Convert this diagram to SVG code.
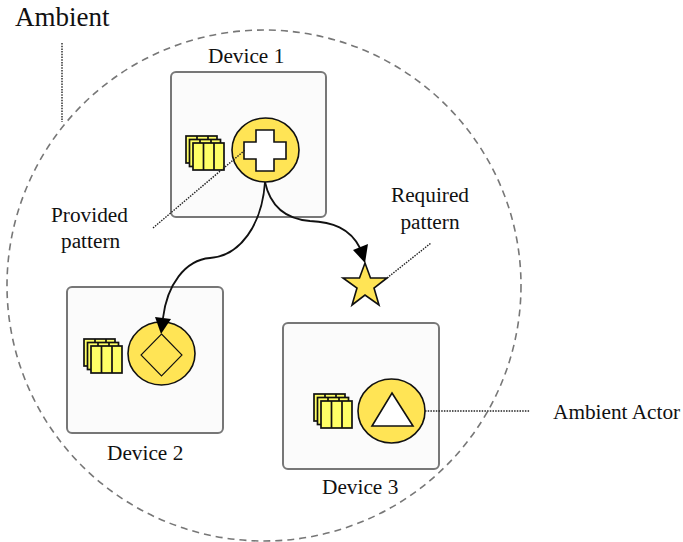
<svg xmlns="http://www.w3.org/2000/svg" width="683" height="542" viewBox="0 0 683 542">
<style>
text{font-family:"Liberation Serif","Times New Roman",serif;font-size:21.3px;fill:#111}
.dev{fill:#fbfbfb;stroke:#777;stroke-width:2}
.disc{fill:#ffe455;stroke:#111;stroke-width:1.6}
.doc{fill:#ffff66;stroke:#111;stroke-width:1.7}
.sym{stroke:#111;stroke-width:1.6;stroke-linejoin:miter}
.lead{fill:none;stroke:#222;stroke-width:1.4;stroke-dasharray:1.5 1.2}
.curve{fill:none;stroke:#111;stroke-width:1.8}
.head{fill:#000;stroke:none}
</style>
<defs>
<g id="stack">
<rect class="doc" x="0" y="0" width="31" height="27"/>
<path class="doc" d="M11 0V3M22 0V3"/>
<rect class="doc" x="3.500" y="3.500" width="31" height="27"/>
<path class="doc" d="M14 3.500V7M25 3.500V7"/>
<rect class="doc" x="7" y="7" width="31" height="27"/>
<path class="doc" d="M17.500 7V34M28 7V34"/>
</g>
</defs>
<g id="ambient"><ellipse cx="264" cy="285.500" rx="257" ry="255.500" fill="none" stroke="#777" stroke-width="1.6" stroke-dasharray="7 5"/><text x="15" y="26" style="font-size:27px">Ambient</text></g>
<g id="device1"><rect class="dev" x="171" y="72" width="155" height="145" rx="5"/><use href="#stack" x="186" y="136"/><ellipse class="disc" cx="265.500" cy="150" rx="33.500" ry="32"/><path class="sym" fill="#fff" d="M256 130H274V142H286V159H274V171H256V159H244V142H256Z"/><text x="208" y="63">Device 1</text></g>
<g id="device2"><rect class="dev" x="67" y="287" width="156" height="146" rx="5"/><use href="#stack" x="84" y="339"/><ellipse class="disc" cx="161.500" cy="353.500" rx="33.500" ry="31.500"/><path fill="#ffe455" stroke="#111" stroke-width="1.1" d="M161.500 334L182 355L161.500 376L141 355Z"/><text x="107" y="460">Device 2</text></g>
<g id="device3"><rect class="dev" x="283" y="323" width="156" height="146" rx="5"/><use href="#stack" x="314" y="394"/><ellipse class="disc" cx="391.500" cy="411" rx="33.500" ry="32"/><path class="sym" fill="#fff" d="M392 393L413 426H372Z"/><text x="322" y="494">Device 3</text></g>
<g id="required-pattern"><path class="sym" fill="#ffe455" d="M365 263L370.500 278H387L374 288L379 305L365 295L352 305L357 288L343 278H359.500Z"/><text text-anchor="middle" x="430" y="202">Required</text><text text-anchor="middle" x="430" y="229">pattern</text></g>
<g id="provided-pattern"><text x="51" y="222">Provided</text><text x="61" y="248">pattern</text></g>
<g id="ambient-actor"><text x="553" y="419">Ambient Actor</text></g>
<g id="connectors">
<path class="lead" d="M62 43V122"/>
<path class="lead" d="M153 228L245 150"/>
<path class="lead" d="M387 278L431 243"/>
<path class="lead" d="M425 411H530"/>
<path class="curve" d="M265 182C270 205 285 219 310 221C332 222 350 228 360 248"/>
<path class="head" d="M365 263L353 250L368 244Z"/>
<path class="curve" d="M265 182C262 225 240 256 210 258C185 260 167 285 163 318"/>
<path class="head" d="M161 334L155 317L171 319Z"/>
</g>
</svg>
